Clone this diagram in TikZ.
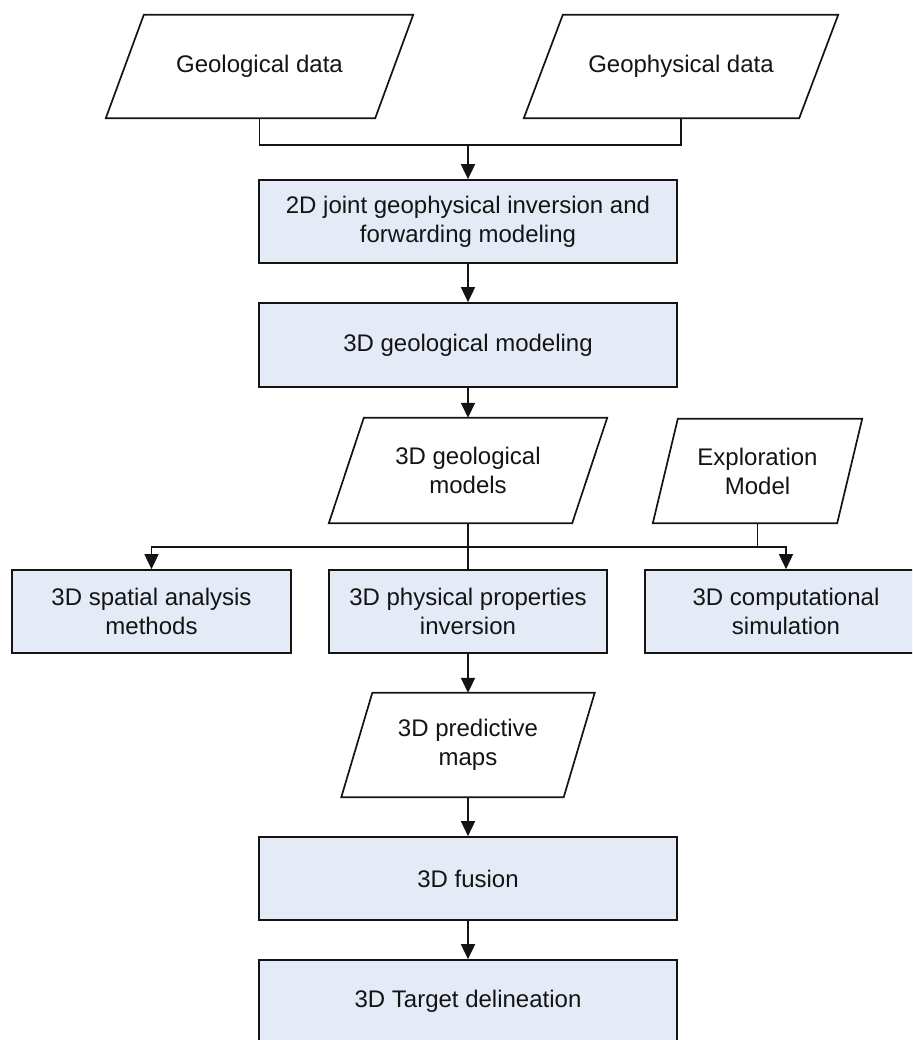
\documentclass[tikz,border=0pt]{standalone}
\usepackage{fontspec}
\setmainfont{Liberation Sans}
\usetikzlibrary{arrows.meta,calc}
\definecolor{boxfill}{RGB}{228,235,246}
\definecolor{ink}{RGB}{20,20,20}
\tikzset{
  proc/.style={draw=ink, line width=1.7pt, fill=boxfill, inner sep=0pt, align=center,
    font=\fontsize{24}{29}\selectfont, text=ink},
  iotext/.style={inner sep=0pt, align=center, font=\fontsize{24}{29}\selectfont, text=ink},
  ioshape/.style={draw=ink, line width=1.7pt, fill=white, line join=miter},
  conn/.style={draw=ink, line width=1.7pt},
  arr/.style={conn, -{Triangle[width=14pt,length=15pt]}}
}
\newcommand{\iobox}[2]{% node name, skew
  \path[ioshape] (#1.south west) -- ($(#1.north west)+(#2,0)$) -- (#1.north east)
    -- ($(#1.south east)-(#2,0)$) -- cycle;
}
\begin{document}
\begin{tikzpicture}[x=1pt,y=-1pt]
\useasboundingbox (0,0) rectangle (912,1040);
\clip (0,0) rectangle (912,1040);

% input/output shapes (parallelograms)
\node[iotext, minimum width=307pt, minimum height=103pt] (geo) at (259.5,66.5) {};
\node[iotext, minimum width=314pt, minimum height=103pt] (gph) at (681,66.5) {};
\node[iotext, minimum width=278pt, minimum height=105pt] (gmods) at (468,470.5) {};
\node[iotext, minimum width=209pt, minimum height=104pt] (expl) at (757.5,471) {};
\node[iotext, minimum width=253pt, minimum height=104pt] (pred) at (468,745) {};
\iobox{geo}{38}
\iobox{gph}{39}
\iobox{gmods}{35}
\iobox{expl}{25}
\iobox{pred}{31}
\node[iotext] at (geo.center) {Geological data};
\node[iotext] at (gph.center) {Geophysical data};
\node[iotext] at (gmods.center) {3D geological\\models};
\node[iotext] at (expl.center) {Exploration\\Model};
\node[iotext] at (pred.center) {3D predictive\\maps};

% process boxes
\node[proc, minimum width=418pt, minimum height=83pt] (joint) at (468,221.5)
  {2D joint geophysical inversion and\\forwarding modeling};
\node[proc, minimum width=418pt, minimum height=84pt] (model) at (468,345)
  {3D geological modeling};
\node[proc, minimum width=279pt, minimum height=83pt] (spatial) at (151.5,611.5)
  {3D spatial analysis\\methods};
\node[proc, minimum width=278pt, minimum height=83pt] (phys) at (468,611.5)
  {3D physical properties\\inversion};
\node[proc, minimum width=310pt, minimum height=83pt] (comp) at (800,611.5) {};
\node[iotext] (comptext) at (786,611.5) {3D computational\\simulation};
\node[proc, minimum width=418pt, minimum height=83pt] (fusion) at (468,878.5)
  {3D fusion};
\node[proc, minimum width=418pt, minimum height=90pt] (target) at (468,1005)
  {};
\node[iotext] (targettext) at (468,1001.5) {3D Target delineation};

% connectors
\coordinate (j1) at (468,145);
\coordinate (j2) at (468,547);
\coordinate (c3) at (comptext |- comp.north);
\draw[conn] (geo.south) |- (j1) -| (gph.south);
\draw[arr] (j1) -- (joint.north);
\draw[arr] (joint.south) -- (model.north);
\draw[arr] (model.south) -- (gmods.north);
\draw[conn] (gmods.south) -- (phys.north);
\draw[arr] (j2) -| (spatial.north);
\draw[arr] (j2) -| (c3);
\draw[conn] (expl.south) -- (expl.south |- j2);
\draw[arr] (phys.south) -- (pred.north);
\draw[arr] (pred.south) -- (fusion.north);
\draw[arr] (fusion.south) -- (target.north);
\end{tikzpicture}
\end{document}
